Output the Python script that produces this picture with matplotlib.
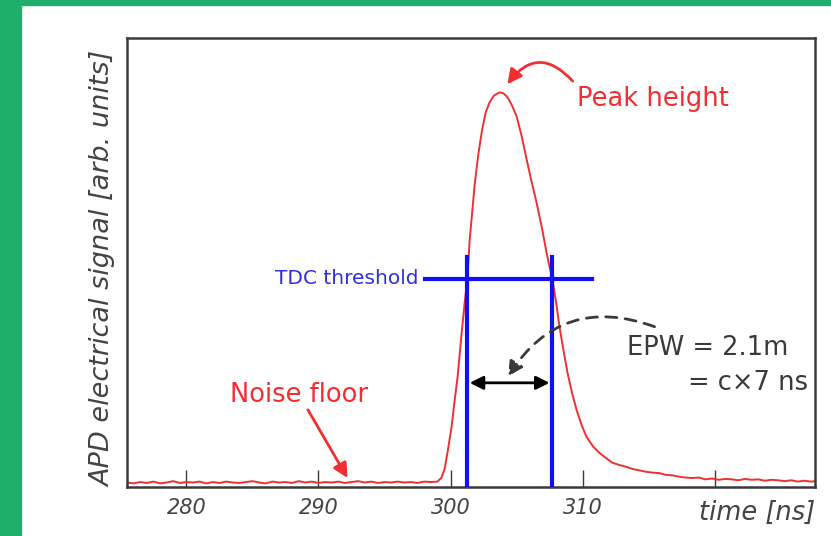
import matplotlib
matplotlib.use('Agg')
import matplotlib.pyplot as plt
from matplotlib.patches import Rectangle

# APD pulse, times in ns, signal in arbitrary units (0..1 of the axis)
floor_t = [275.5, 276.0, 276.5, 277.0, 277.5, 278.0, 278.5, 279.0, 279.5, 280.0,
           280.5, 281.0, 281.5, 282.0, 282.5, 283.0, 283.5, 284.0, 284.5, 285.0,
           285.5, 286.0, 286.5, 287.0, 287.5, 288.0, 288.5, 289.0, 289.5, 290.0,
           290.5, 291.0, 291.5, 292.0, 292.5, 293.0, 293.5, 294.0, 294.5, 295.0,
           295.5, 296.0, 296.5, 297.0, 297.5, 298.0, 298.5, 299.0]
floor_v = [0.010, 0.008, 0.011, 0.009, 0.012, 0.008, 0.010, 0.013, 0.009, 0.011,
           0.010, 0.012, 0.008, 0.011, 0.009, 0.012, 0.010, 0.009, 0.011, 0.013,
           0.010, 0.008, 0.012, 0.010, 0.011, 0.009, 0.013, 0.010, 0.012, 0.009,
           0.011, 0.010, 0.012, 0.009, 0.011, 0.013, 0.010, 0.012, 0.009, 0.011,
           0.010, 0.012, 0.010, 0.011, 0.009, 0.012, 0.011, 0.012]

pulse_t = [299.3, 299.55, 299.8, 300.08, 300.3, 300.54, 300.8, 301.07, 301.27, 301.45,
           301.83, 302.1, 302.36, 302.65, 302.96, 303.3, 303.71, 304.0, 304.32, 304.65,
           305.0, 305.4, 305.76, 306.1, 306.51, 306.9, 307.27, 307.5, 307.72, 308.0,
           308.25, 308.55, 308.86, 309.2, 309.54, 309.9, 310.29, 310.8, 311.27, 311.8,
           312.26, 312.79]
pulse_v = [0.020, 0.040, 0.082, 0.134, 0.190, 0.246, 0.330, 0.410, 0.462, 0.550,
           0.674, 0.740, 0.790, 0.833, 0.857, 0.872, 0.879, 0.877, 0.868, 0.850,
           0.826, 0.780, 0.730, 0.685, 0.634, 0.580, 0.522, 0.490, 0.462, 0.410,
           0.357, 0.305, 0.254, 0.210, 0.172, 0.140, 0.112, 0.090, 0.076, 0.064,
           0.054, 0.049]

tail_t = [313.3, 313.8, 314.3, 314.8, 315.3, 315.8, 316.3, 316.8, 317.3, 317.8,
          318.3, 318.8, 319.3, 319.8, 320.3, 320.8, 321.3, 321.8, 322.3, 322.8,
          323.3, 323.8, 324.3, 324.8, 325.3, 325.8, 326.3, 326.8, 327.3, 327.6]
tail_v = [0.045, 0.040, 0.037, 0.034, 0.032, 0.031, 0.027, 0.026, 0.023, 0.021,
          0.020, 0.021, 0.017, 0.019, 0.016, 0.018, 0.017, 0.015, 0.018, 0.016,
          0.017, 0.014, 0.016, 0.015, 0.013, 0.015, 0.012, 0.014, 0.012, 0.013]

threshold = 0.464
crossings = [301.27, 307.67]
xticks = [280, 290, 300, 310, 320]
xticklabels = ['280', '290', '300', '310', '']

RED = '#f03030'
BLUE = '#1010f0'
GREY = '#3a3a3a'

fig = plt.figure(figsize=(8.31, 5.36), dpi=100)
fig.patch.set_facecolor('white')
green = '#20ae6b'
fig.patches.append(Rectangle((0, 0), 21 / 831, 1, transform=fig.transFigure, color=green))
fig.patches.append(Rectangle((0, 1 - 5 / 536), 1, 5 / 536, transform=fig.transFigure, color=green))

ax = fig.add_axes([127 / 831, (536 - 487) / 536, (815 - 127) / 831, (487 - 38) / 536])

t = floor_t + pulse_t + tail_t
v = floor_v + pulse_v + tail_v
ax.plot(t, v, color=RED, lw=1.4, zorder=2)

# TDC threshold and crossing markers
ax.plot([298.05, 310.75], [threshold, threshold], color=BLUE, lw=3, zorder=3)
for c in crossings:
    ax.plot([c, c], [0, 0.513], color=BLUE, lw=3, zorder=3)

ax.set_xlim(275.5, 327.6)
ax.set_ylim(0, 1)
ax.set_xticks(xticks)
ax.set_xticklabels(xticklabels, fontsize=15, style='italic', color='#444444')
ax.set_yticks([])
ax.tick_params(axis='x', direction='in', length=12, width=1.0, color=GREY, pad=8)
for s in ax.spines.values():
    s.set_color(GREY)
    s.set_linewidth(1.8)

fig.text(103 / 831, 1 - 269 / 536, 'APD electrical signal [arb. units]', rotation=90,
         ha='center', va='center', fontsize=19.5, style='italic', color='#444444')
fig.text(815 / 831, 1 - 513 / 536, 'time [ns]', ha='right', va='center',
         fontsize=18.5, style='italic', color='#444444')

# annotations
ax.annotate('', xy=(304.3, 0.897), xytext=(309.25, 0.904),
            arrowprops=dict(arrowstyle='-|>', color=RED, lw=2, mutation_scale=22,
                            connectionstyle='arc3,rad=0.6', shrinkA=0, shrinkB=0))
ax.text(309.6, 0.864, 'Peak height', color=RED, fontsize=18.5, ha='left', va='center')

ax.text(288.5, 0.205, 'Noise floor', color=RED, fontsize=18.5, ha='center', va='center')
ax.annotate('', xy=(292.2, 0.02), xytext=(289.2, 0.172),
            arrowprops=dict(arrowstyle='-|>', color=RED, lw=2, mutation_scale=22,
                            shrinkA=0, shrinkB=0))

ax.text(297.6, threshold, 'TDC threshold', color='#3030e0', fontsize=14.5,
        ha='right', va='center')

ax.annotate('', xy=(301.45, 0.232), xytext=(307.5, 0.232),
            arrowprops=dict(arrowstyle='<|-|>', color='black', lw=2, mutation_scale=20,
                            shrinkA=0, shrinkB=0))
ax.annotate('', xy=(304.35, 0.246), xytext=(315.45, 0.357),
            arrowprops=dict(arrowstyle='-|>', color=GREY, lw=2, ls=(0, (4, 3)),
                            mutation_scale=22, connectionstyle='arc3,rad=0.4',
                            shrinkA=0, shrinkB=0))

fig.text(788 / 831, 1 - 348 / 536, 'EPW = 2.1m', ha='right', va='center',
         fontsize=18.5, color=GREY)
fig.text(808 / 831, 1 - 383 / 536, '= c\u00d77 ns', ha='right', va='center',
         fontsize=18.5, color=GREY)

fig.savefig('out.png', dpi=100)
